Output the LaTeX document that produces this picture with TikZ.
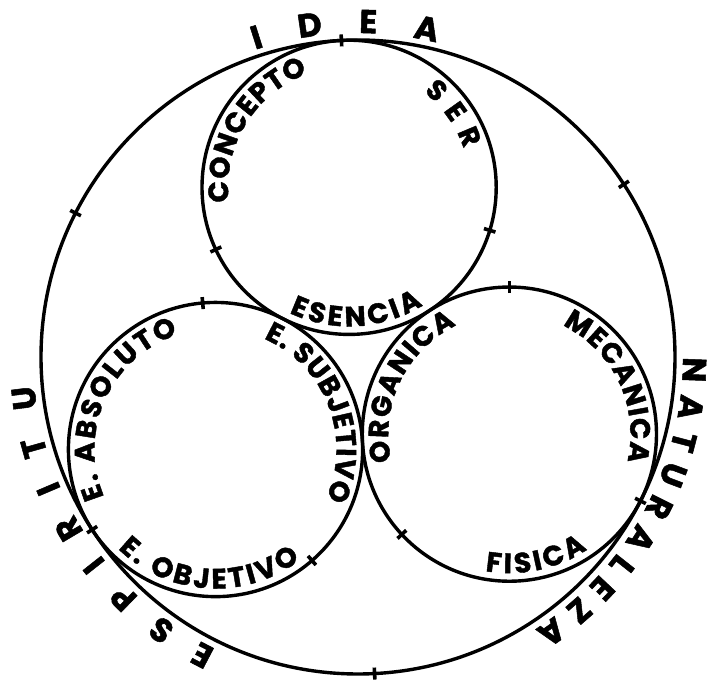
\documentclass[tikz,border=0pt]{standalone}
\usepackage{fontspec}
\newfontfamily\labelfont{Poppins}[BoldFeatures={FakeBold=1.5}]
\usetikzlibrary{calc,decorations.text}
\newcommand{\innerfont}{\labelfont\bfseries\fontsize{28}{28}\selectfont}
\newcommand{\outerfont}{\labelfont\bfseries\fontsize{33}{33}\selectfont}

\begin{document}
\begin{tikzpicture}[x=1pt,y=1pt,
    ring/.style={line width=3.4pt},
    tickmark/.style={line width=3.6pt},
    outerlabel/.style={font=\outerfont,decorate,decoration={text along path,
        text align=fit to path,text={|\outerfont|#1}}},
    innerlabel/.style={font=\innerfont,decorate,decoration={text along path,
        text align=fit to path,text={|\innerfont|#1}}},
  ]
  \useasboundingbox (0,0) rectangle (710,680);

  % centres of the four circles
  \coordinate (all) at (358,323);
  \coordinate (idea) at ($(all)+(93:169.9)$);
  \coordinate (esp) at ($(all)+(213:169.9)$);
  \coordinate (nat) at ($(all)+(333:169.9)$);

  \draw[ring] (all) circle[radius=317];
  \draw[ring] (idea) circle[radius=147.1];
  \draw[ring] (esp) circle[radius=147.1];
  \draw[ring] (nat) circle[radius=147.1];

  % ticks
  \foreach \a in {33,93,...,333}
    \draw[tickmark] ($(all)+(\a:311)$) -- ($(all)+(\a:323)$);
  \foreach \a in {205,343}
    \draw[tickmark] ($(idea)+(\a:141)$) -- ($(idea)+(\a:153)$);
  \foreach \a in {95,311}
    \draw[tickmark] ($(esp)+(\a:141)$) -- ($(esp)+(\a:153)$);
  \foreach \a in {90,223}
    \draw[tickmark] ($(nat)+(\a:141)$) -- ($(nat)+(\a:153)$);

  % outer labels
  \path[outerlabel={IDEA}] ($(all)+(108.5:324)$)
    arc[start angle=108.5,end angle=76,radius=324];
  \path[outerlabel={NATURALEZA}] ($(all)+(0:325)$)
    arc[start angle=0,end angle=-57,radius=325];
  \path[outerlabel={ESPIRITU}] ($(all)+(244:325)$)
    arc[start angle=244,end angle=185,radius=325];

  % idea
  \path[innerlabel={CONCEPTO}] ($(idea)+(187:121)$)
    arc[start angle=187,end angle=110,radius=121];
  \path[innerlabel={SER}] ($(idea)+(52:121)$)
    arc[start angle=52,end angle=18.5,radius=121];
  \path[innerlabel={ESENCIA}] ($(idea)+(244.5:139)$)
    arc[start angle=244.5,end angle=302,radius=139];

  % espiritu
  \path[innerlabel={E. ABSOLUTO}] ($(esp)+(203:121)$)
    arc[start angle=203,end angle=108,radius=121];
  \path[innerlabel={E. SUBJETIVO}] ($(esp)+(66.5:121)$)
    arc[start angle=66.5,end angle=-24,radius=121];
  \path[innerlabel={E. OBJETIVO}] ($(esp)+(225.5:139)$)
    arc[start angle=225.5,end angle=307.5,radius=139];

  % naturaleza
  \path[innerlabel={ORGANICA}] ($(nat)+(193:121)$)
    arc[start angle=193,end angle=116,radius=121];
  \path[innerlabel={MECANICA}] ($(nat)+(64:121)$)
    arc[start angle=64,end angle=-13,radius=121];
  \path[innerlabel={FISICA}] ($(nat)+(260:139)$)
    arc[start angle=260,end angle=304,radius=139];
\end{tikzpicture}
\end{document}
